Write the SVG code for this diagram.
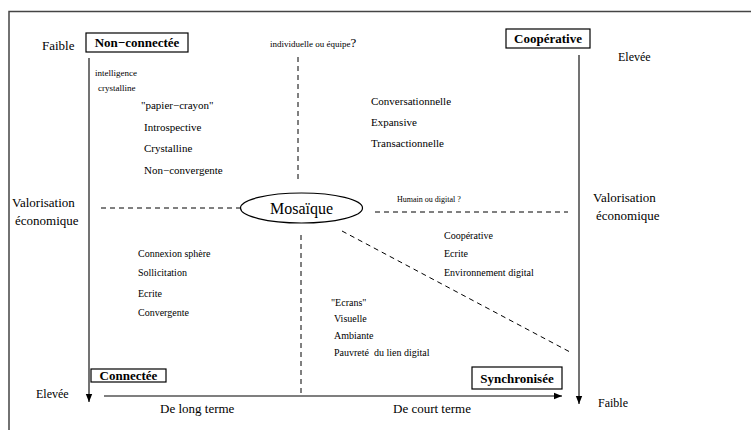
<svg xmlns="http://www.w3.org/2000/svg" width="751" height="430" viewBox="0 0 751 430" font-family="'Liberation Serif', 'DejaVu Serif', serif">
<defs>
<marker id="arr" viewBox="0 0 10 10" refX="10" refY="5" markerWidth="8" markerHeight="8" markerUnits="userSpaceOnUse" orient="auto">
<path d="M0,1 L10,5 L0,9 z" fill="#000"/>
</marker>
</defs>
<style>
text{font-family:'Liberation Serif','DejaVu Serif',serif;fill:#000}
.b{font-weight:bold;font-size:13px;text-anchor:middle}
.box{fill:#fff;stroke:#000;stroke-width:1.2}
.ax{stroke:#444;stroke-width:1.5;fill:none}
.d{stroke:#000;stroke-width:1;stroke-dasharray:5,4;fill:none}
.s9{font-size:9px}
.s10{font-size:10px}
.s11{font-size:11px}
.s13{font-size:13px}
</style>
<rect width="751" height="430" fill="#fff"/>
<g id="frame"><path d="M9,430 V11.5 H751" class="ax" stroke="#666"/></g>
<g id="connectors">
<line x1="89" y1="58" x2="89" y2="402" class="ax" marker-end="url(#arr)"/>
<line x1="579" y1="55" x2="579" y2="404" class="ax" marker-end="url(#arr)"/>
<line x1="104" y1="396" x2="562" y2="396" stroke="#000" stroke-width="1.2" marker-end="url(#arr)"/>
<line x1="298" y1="57" x2="298" y2="183" class="d"/>
<line x1="301" y1="235" x2="301" y2="396" class="d"/>
<line x1="101" y1="208" x2="240" y2="208" class="d"/>
<line x1="375" y1="212" x2="568" y2="212" class="d"/>
<line x1="342" y1="231" x2="570" y2="352" class="d"/>
</g>
<g id="mosaique">
<ellipse cx="301.5" cy="208" rx="61" ry="15" fill="#fff" stroke="#000" stroke-width="1.2"/>
<text x="301.5" y="214" font-size="16" text-anchor="middle">Mosaïque</text>
</g>
<g id="non-connectee">
<rect x="86" y="33" width="102" height="19" class="box"/>
<text x="137" y="47" class="b">Non−connectée</text>
</g>
<g id="cooperative">
<rect x="506" y="29" width="84" height="19" class="box"/>
<text x="548" y="43" class="b">Coopérative</text>
</g>
<g id="connectee">
<rect x="91" y="369" width="75" height="13" class="box"/>
<text x="128.5" y="380" class="b">Connectée</text>
</g>
<g id="synchronisee">
<rect x="472" y="367" width="90" height="22" class="box"/>
<text x="517" y="383" class="b">Synchronisée</text>
</g>
<g id="labels">
<text x="42" y="50" class="s13">Faible</text>
<text x="95" y="76" class="s9">intelligence</text>
<text x="98" y="91" class="s9">crystalline</text>
<text x="141" y="109" class="s11">"papier−crayon"</text>
<text x="144" y="131" class="s11">Introspective</text>
<text x="144" y="152" class="s11">Crystalline</text>
<text x="144" y="174" class="s11">Non−convergente</text>
<text x="270" y="47" class="s9">individuelle ou équipe<tspan font-size="13">?</tspan></text>
<text x="371" y="105" class="s11">Conversationnelle</text>
<text x="371" y="126" class="s11">Expansive</text>
<text x="371" y="147" class="s11">Transactionnelle</text>
<text x="618" y="61" font-size="12">Elevée</text>
<text x="12" y="207" class="s13">Valorisation</text>
<text x="15" y="225" class="s13">économique</text>
<text x="593" y="202" class="s13">Valorisation</text>
<text x="596" y="220" class="s13">économique</text>
<text x="397" y="202" font-size="8">Humain ou digital ?</text>
<text x="138" y="257" class="s10">Connexion sphère</text>
<text x="138" y="276" class="s10">Sollicitation</text>
<text x="138" y="297" class="s10">Ecrite</text>
<text x="138" y="316" class="s10">Convergente</text>
<text x="444" y="239" class="s10">Coopérative</text>
<text x="444" y="257" class="s10">Ecrite</text>
<text x="444" y="276" class="s10">Environnement digital</text>
<text x="331" y="306" class="s10">"Ecrans"</text>
<text x="334" y="322" class="s10">Visuelle</text>
<text x="334" y="339" class="s10">Ambiante</text>
<text x="334" y="356" class="s10" xml:space="preserve">Pauvreté  du lien digital</text>
<text x="36" y="398" font-size="12">Elevée</text>
<text x="160" y="413" class="s13">De long terme</text>
<text x="393" y="413" class="s13">De court terme</text>
<text x="598" y="407" font-size="12">Faible</text>
</g>
</svg>
